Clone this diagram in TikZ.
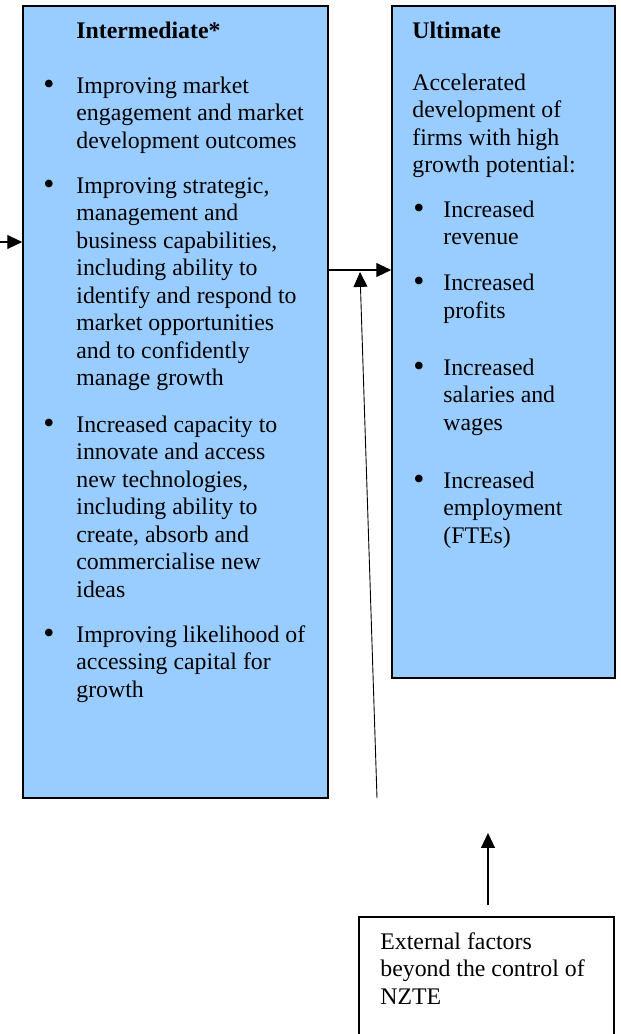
\documentclass[tikz,border=0pt]{standalone}
\usepackage{fontspec}
\setmainfont{Liberation Serif}
\usetikzlibrary{arrows.meta,fit}
\definecolor{paleblue}{RGB}{153,204,255}
\begin{document}
\begin{tikzpicture}[x=0.504pt,y=-0.504pt,
  box/.style={draw=black, line width=0.8pt, inner sep=0pt},
  bluebox/.style={box, fill=paleblue},
  % multi-line texts are placed by the baseline of their last line
  txt/.style={anchor=base west, inner sep=0pt, align=left,
    font=\fontsize{12pt}{13.86pt}\selectfont},
  title/.style={txt, font=\fontsize{12pt}{13.86pt}\selectfont\bfseries},
  dot/.style={anchor=base, inner sep=0pt, yshift=-1pt, font=\fontsize{16pt}{16pt}\selectfont},
  arr/.style={line width=0.55pt, -{Triangle[length=7.5pt,width=7pt]}}]
\clip (0,0) rectangle (621,1034);

% result boxes
\node[bluebox, fit={(23,6) (328,798)}] (inter) {};
\node[bluebox, fit={(392,6) (615,678)}] (ult) {};
\node[box, fill=white, fit={(359,917) (614,1060)}] (ext) {};

% intermediate outcomes
\node[title] (ititle) at (76,38) {Intermediate*};
\node[dot] (ib1) at (49,93) {•};
\node[txt] (ip1) at (76,148) {Improving market\\engagement and market\\development outcomes};
\node[dot] (ib2) at (49,193) {•};
\node[txt] (ip2) at (76,385.5) {Improving strategic,\\management and\\business capabilities,\\including ability to\\identify and respond to\\market opportunities\\and to confidently\\manage growth};
\node[dot] (ib3) at (49,432) {•};
\node[txt] (ip3) at (76,597) {Increased capacity to\\innovate and access\\new technologies,\\including ability to\\create, absorb and\\commercialise new\\ideas};
\node[dot] (ib4) at (49,642) {•};
\node[txt] (ip4) at (76,697) {Improving likelihood of\\accessing capital for\\growth};

% ultimate outcomes
\node[title] (utitle) at (412,38) {Ultimate};
\node[txt] (uintro) at (412,172.5) {Accelerated\\development of\\firms with high\\growth potential:};
\node[dot] (ub1) at (419,217) {•};
\node[txt] (up1) at (443,244.5) {Increased\\revenue};
\node[dot] (ub2) at (419,290) {•};
\node[txt] (up2) at (443,318) {Increased\\profits};
\node[dot] (ub3) at (419,375) {•};
\node[txt] (up3) at (443,430) {Increased\\salaries and\\wages};
\node[dot] (ub4) at (419,488) {•};
\node[txt] (up4) at (443,543) {Increased\\employment\\(FTEs)};

% external factors
\node[txt] (etext) at (380,1004) {External factors\\beyond the control of\\NZTE};

% connectors
\coordinate (lin) at (0,242);
\coordinate (mid) at (360,270);
\coordinate (ltail) at (377,798);
\coordinate (lhead) at (360,272);
\coordinate (stail) at (488,905);
\coordinate (shead) at (488,833);
\draw[arr] (lin) -- (lin -| inter.west);
\draw[arr] (mid -| inter.east) -- (mid -| ult.west);
\draw[arr, line width=0.45pt] (ltail) -- (lhead);
\draw[arr] (stail) -- (shead);
\end{tikzpicture}
\end{document}
